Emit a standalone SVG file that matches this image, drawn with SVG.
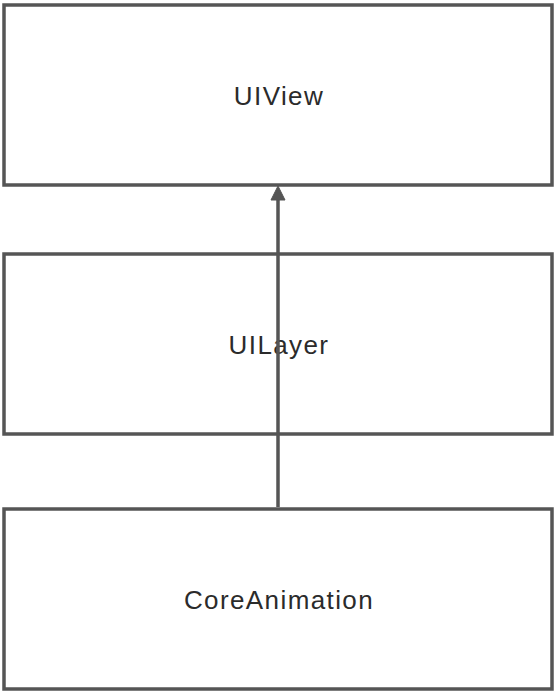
<svg xmlns="http://www.w3.org/2000/svg" width="556" height="694" viewBox="0 0 556 694">
<style>
.box{fill:#ffffff;stroke:#555555;stroke-width:3.5}
.lbl{font-family:"Liberation Sans",Arial,sans-serif;font-size:26px;letter-spacing:1.4px;fill:#2b2b2b;text-anchor:middle;dominant-baseline:central}
.conn{stroke:#555555;stroke-width:3.5;fill:none}
</style>
<rect width="556" height="694" fill="#ffffff"/>
<g id="uiview">
<rect class="box" x="4" y="5" width="548" height="180"/>
<text class="lbl" x="279" y="96">UIView</text>
</g>
<g id="uilayer">
<rect class="box" x="4" y="254" width="548" height="180"/>
<text class="lbl" x="279" y="345">UILayer</text>
</g>
<g id="coreanimation">
<rect class="box" x="4" y="509" width="548" height="180"/>
<text class="lbl" x="279" y="600">CoreAnimation</text>
</g>
<g id="connectors">
<line class="conn" x1="278" y1="507" x2="278" y2="198"/>
<path d="M278,186 L285,200 L271,200 Z" fill="#555555" stroke="#555555" stroke-width="1"/>
</g>
</svg>
